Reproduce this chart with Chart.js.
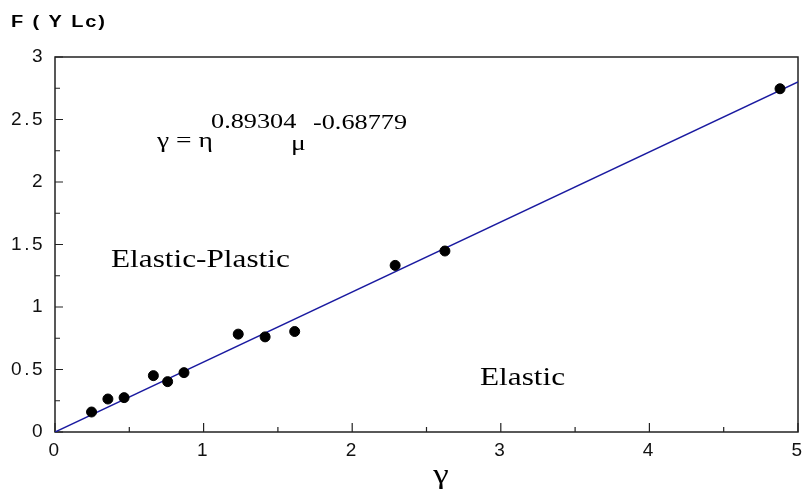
<!DOCTYPE html>
<html>
<head>
<meta charset="utf-8">
<script src="https://cdn.jsdelivr.net/npm/chart.js@4/dist/chart.umd.min.js"></script>
<style>
  html, body { margin: 0; padding: 0; background: #fff; }
  #wrap { width: 804px; height: 491px; }
</style>
</head>
<body>
<div id="wrap"><canvas id="fitChart" width="804" height="491"></canvas></div>
<script>
// measured points
const gammaVals = [0.246, 0.356, 0.465, 0.662, 0.758, 0.868, 1.233, 1.414, 1.613, 2.289, 2.624, 4.879];
const forceVals = [0.16, 0.264, 0.275, 0.451, 0.403, 0.475, 0.783, 0.761, 0.804, 1.333, 1.448, 2.746];

// fitted line
const fitX = [0, 5];
const fitY = [0, 2.8];

// axes
const xTicks = [0, 1, 2, 3, 4, 5];
const yTicks = [0, 0.5, 1, 1.5, 2, 2.5, 3];
const xMinorTicks = [0.5, 1.5, 2.5, 3.5, 4.5];
const yMinorTicks = [0.25, 0.75, 1.25, 1.75, 2.25, 2.75];

const serif = '"Liberation Serif", "Times New Roman", serif';
const sans = '"Liberation Sans", Arial, sans-serif';
const axisColor = '#222';

// wide text, stretched out horizontally like the old plotting package did
function wideText(ctx, text, x, y, font, spacing, align) {
    ctx.save();
    ctx.font = font;
    ctx.letterSpacing = spacing || '0px';
    ctx.fillStyle = '#000';
    ctx.textBaseline = 'alphabetic';
    ctx.textAlign = align || 'left';
    ctx.translate(x, y);
    ctx.scale(1.25, 1);
    ctx.fillText(text, 0, 0);
    ctx.restore();
}

const framePlugin = {
    id: 'frame',
    beforeDraw(chart) {
        chart.ctx.letterSpacing = '2.5px';
    },
    beforeDatasetsDraw(chart) {
        chart.ctx.letterSpacing = '0px';
        const { ctx, chartArea: a, scales } = chart;
        ctx.save();
        ctx.strokeStyle = axisColor;
        ctx.lineWidth = 1.5;
        ctx.strokeRect(a.left, a.top, a.right - a.left, a.bottom - a.top);
        ctx.lineWidth = 1.2;
        ctx.beginPath();
        // inward ticks on bottom axis
        xTicks.forEach(v => {
            const px = scales.x.getPixelForValue(v);
            ctx.moveTo(px, a.bottom); ctx.lineTo(px, a.bottom - 9);
        });
        xMinorTicks.forEach(v => {
            const px = scales.x.getPixelForValue(v);
            ctx.moveTo(px, a.bottom); ctx.lineTo(px, a.bottom - 5);
        });
        // inward ticks on left axis
        yTicks.forEach(v => {
            const py = scales.y.getPixelForValue(v);
            ctx.moveTo(a.left, py); ctx.lineTo(a.left + 8, py);
        });
        yMinorTicks.forEach(v => {
            const py = scales.y.getPixelForValue(v);
            ctx.moveTo(a.left, py); ctx.lineTo(a.left + 5, py);
        });
        ctx.stroke();
        ctx.restore();
    },
    afterDraw(chart) {
        const ctx = chart.ctx;
        ctx.letterSpacing = '0px';
        wideText(ctx, 'F ( Y Lc)', 11, 27, 'bold 16px ' + sans, '1.5px');
        // x axis title
        wideText(ctx, 'γ', 441, 483, '28px ' + serif, '0px', 'center');
        // fit equation
        wideText(ctx, 'γ = η', 157, 147, '22px ' + serif);
        wideText(ctx, '0.89304', 211, 128, '21px ' + serif);
        wideText(ctx, 'μ', 291, 150, '22px ' + serif);
        wideText(ctx, '-0.68779', 313, 129, '21px ' + serif);
        // regions
        wideText(ctx, 'Elastic-Plastic', 111, 267, '25px ' + serif);
        wideText(ctx, 'Elastic', 480, 385, '25px ' + serif);
    }
};

new Chart(document.getElementById('fitChart'), {
    type: 'scatter',
    data: {
        datasets: [
            {
                label: 'Data',
                data: gammaVals.map((g, i) => ({ x: g, y: forceVals[i] })),
                backgroundColor: '#000',
                borderColor: '#000',
                pointRadius: 5,
                pointHoverRadius: 5,
                order: 0
            },
            {
                label: 'Fit',
                type: 'line',
                data: fitX.map((g, i) => ({ x: g, y: fitY[i] })),
                borderColor: '#1a1aa0',
                borderWidth: 1.5,
                pointRadius: 0,
                fill: false,
                order: 1
            }
        ]
    },
    options: {
        responsive: false,
        animation: false,
        layout: { padding: { left: 0, right: 4, top: 57, bottom: 0 } },
        plugins: {
            legend: { display: false },
            tooltip: { enabled: false }
        },
        scales: {
            x: {
                type: 'linear',
                min: 0,
                max: 5,
                afterBuildTicks: s => { s.ticks = xTicks.map(v => ({ value: v })); },
                afterFit: s => { s.height = 59; s.paddingLeft = 0; s.paddingRight = 0; },
                grid: { display: false, drawTicks: false },
                border: { display: false },
                ticks: { color: '#111', font: { family: sans, size: 19 }, padding: 7, maxRotation: 0, callback: v => String(v) }
            },
            y: {
                type: 'linear',
                min: 0,
                max: 3,
                afterBuildTicks: s => { s.ticks = yTicks.map(v => ({ value: v })); },
                afterFit: s => { s.width = 55; },
                grid: { display: false, drawTicks: false },
                border: { display: false },
                ticks: { color: '#111', font: { family: sans, size: 19 }, padding: 10, callback: v => String(v) }
            }
        }
    },
    plugins: [framePlugin]
});
</script>
</body>
</html>
